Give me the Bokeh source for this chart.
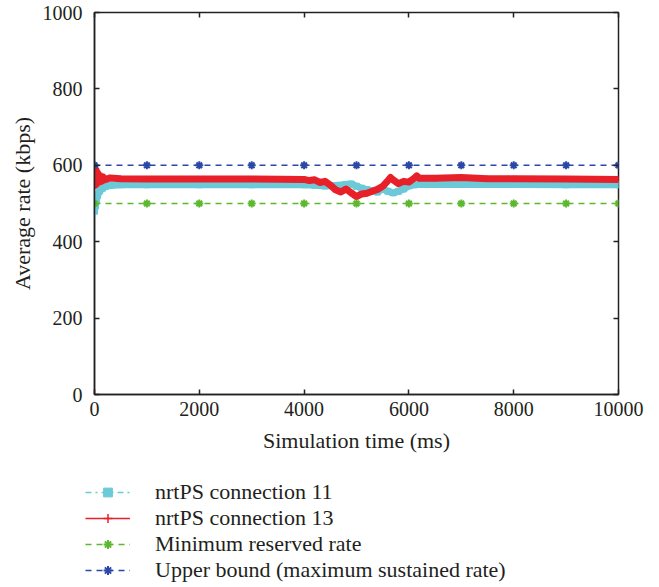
from bokeh.plotting import figure
from bokeh.layouts import column
from bokeh.models import Range1d, FixedTicker, LinearAxis, Legend, LegendItem
from bokeh.embed import file_html
from bokeh.resources import INLINE

# nrtPS connection 11 (cyan)
time_c11 = [0, 20, 40, 60, 100, 150, 200, 300, 500, 1000, 2000, 3000, 4000, 4200, 4400,
             4600, 4800, 4900, 5000, 5100, 5200, 5300, 5400, 5500, 5600, 5700, 5800, 5900,
             6000, 6100, 6200, 7000, 8000, 9000, 10000]
rate_c11 = [480, 495, 510, 522, 533, 540, 544, 547, 549, 549, 549, 549, 549, 548, 546,
             547, 550, 551, 545, 540, 536, 533, 530, 538, 532, 528, 532, 538,
             546, 549, 550, 550, 550, 549, 549]

# nrtPS connection 13 (red)
time_c13 = [0, 15, 30, 45, 60, 80, 100, 130, 160, 200, 300, 500, 1000, 2000, 3000, 4000,
             4100, 4200, 4300, 4400, 4500, 4600, 4700, 4800, 4900, 5000, 5100, 5200, 5300,
             5400, 5500, 5600, 5650, 5700, 5800, 5900, 6000, 6100, 6150, 6200, 6500, 7000,
             7500, 8000, 9000, 10000]
rate_c13 = [600, 548, 588, 552, 580, 556, 574, 558, 570, 562, 567, 565, 564, 564, 564, 563,
             560, 562, 555, 558, 548, 536, 530, 538, 528, 518, 525, 527, 532,
             537, 545, 560, 568, 562, 552, 558, 556, 566, 572, 566, 566, 568,
             565, 565, 564, 563]

# reference rates
time_ref = [0, 1000, 2000, 3000, 4000, 5000, 6000, 7000, 8000, 9000, 10000]
rate_min = [500, 500, 500, 500, 500, 500, 500, 500, 500, 500, 500]
rate_max = [600, 600, 600, 600, 600, 600, 600, 600, 600, 600, 600]

x_ticks = [0, 2000, 4000, 6000, 8000, 10000]
y_ticks = [0, 200, 400, 600, 800, 1000]

labels = ["nrtPS connection 11", "nrtPS connection 13", "Minimum reserved rate",
          "Upper bound (maximum sustained rate)"]

FONT = "Liberation Serif"
TXT = "#231f20"
CYAN = "#6ccad8"
RED = "#e8202a"
GREEN = "#5cb82e"
BLUE = "#2b48a6"
AX = "#222222"

p = figure(width=646, height=462, output_backend="svg", toolbar_location=None,
           x_range=Range1d(0, 10000), y_range=Range1d(0, 1000),
           min_border_left=94, min_border_right=28, min_border_top=12, min_border_bottom=68,
           x_axis_label="Simulation time (ms)", y_axis_label="Average rate (kbps)")
p.frame_align = False
p.grid.visible = False
p.outline_line_color = AX
p.outline_line_width = 1.5
p.background_fill_color = "white"
p.border_fill_color = "white"

for ax in (p.xaxis[0], p.yaxis[0]):
    ax.major_tick_in = 5
    ax.major_tick_out = 0
    ax.minor_tick_line_color = None
    ax.axis_line_color = AX
    ax.axis_line_width = 1.5
    ax.major_tick_line_color = AX
    ax.major_tick_line_width = 1.5
    ax.major_label_text_font = FONT
    ax.major_label_text_font_size = "20px"
    ax.major_label_text_color = TXT
    ax.axis_label_text_font = FONT
    ax.axis_label_text_font_size = "22px"
    ax.axis_label_text_font_style = "normal"
    ax.axis_label_text_color = TXT
p.xaxis[0].ticker = FixedTicker(ticks=x_ticks)
p.yaxis[0].ticker = FixedTicker(ticks=y_ticks)
p.xaxis[0].major_label_standoff = 7
p.xaxis[0].axis_label_standoff = 9
p.yaxis[0].major_label_standoff = 12
p.yaxis[0].axis_label_standoff = 5

# mirrored ticks on top and right
for loc, tick in (("above", x_ticks), ("right", y_ticks)):
    ax = LinearAxis(ticker=FixedTicker(ticks=tick), major_tick_in=5, major_tick_out=0,
                    minor_tick_line_color=None, axis_line_color=None,
                    major_tick_line_color=AX, major_tick_line_width=1.5,
                    major_label_text_color=None, major_label_text_font_size="1px",
                    major_label_standoff=0)
    p.add_layout(ax, loc)

# dense measurement bands
p.line(time_c11, rate_c11, line_color=CYAN, line_width=7, line_join="round")
p.scatter(time_c11, rate_c11, marker="square", size=6, color=CYAN)
p.line(time_c13, rate_c13, line_color=RED, line_width=7, line_join="round")
p.scatter(time_c13, rate_c13, marker="cross", size=6, line_color=RED, line_width=1.5)

# reference lines
p.line(time_ref, rate_min, line_color=GREEN, line_width=1.5, line_dash="6 5")
p.scatter(time_ref, rate_min, marker="asterisk", size=8, line_color=GREEN, line_width=2)
p.line(time_ref, rate_max, line_color=BLUE, line_width=1.5, line_dash="6 5")
p.scatter(time_ref, rate_max, marker="asterisk", size=8, line_color=BLUE, line_width=2)

# legend panel below the chart (series drawn outside its view, only the key is shown)
lg = figure(width=646, height=123, output_backend="svg", toolbar_location=None,
            x_range=Range1d(-2, -1), y_range=Range1d(-2, -1),
            x_axis_type=None, y_axis_type=None, min_border=0)
lg.frame_align = False
lg.grid.visible = False
lg.outline_line_color = None
lg.border_fill_color = "white"
lg.background_fill_color = "white"

r11 = [lg.line(time_c11, rate_c11, line_color=CYAN, line_width=1.5, line_dash="dashdot"),
       lg.scatter(time_c11, rate_c11, marker="square", size=7, color=CYAN)]
r13 = [lg.line(time_c13, rate_c13, line_color=RED, line_width=1.5),
       lg.scatter(time_c13, rate_c13, marker="cross", size=8, line_color=RED, line_width=1.5)]
rmin = [lg.line(time_ref, rate_min, line_color=GREEN, line_width=1.5, line_dash="6 5"),
        lg.scatter(time_ref, rate_min, marker="asterisk", size=8, line_color=GREEN, line_width=2)]
rmax = [lg.line(time_ref, rate_max, line_color=BLUE, line_width=1.5, line_dash="6 5"),
        lg.scatter(time_ref, rate_max, marker="asterisk", size=8, line_color=BLUE, line_width=2)]

legend = Legend(items=[LegendItem(label=labels[0], renderers=r11),
                       LegendItem(label=labels[1], renderers=r13),
                       LegendItem(label=labels[2], renderers=rmin),
                       LegendItem(label=labels[3], renderers=rmax)],
                location=(85, 2), orientation="vertical")
legend.border_line_color = None
legend.background_fill_alpha = 0
legend.padding = 0
legend.margin = 0
legend.spacing = 0
legend.glyph_width = 45
legend.glyph_height = 22
legend.label_height = 22
legend.label_standoff = 25
legend.label_text_font = FONT
legend.label_text_font_size = "22px"
legend.label_text_color = TXT
lg.add_layout(legend, "center")

layout = column(p, lg, spacing=0)
open("out.html", "w").write(file_html(layout, INLINE))
